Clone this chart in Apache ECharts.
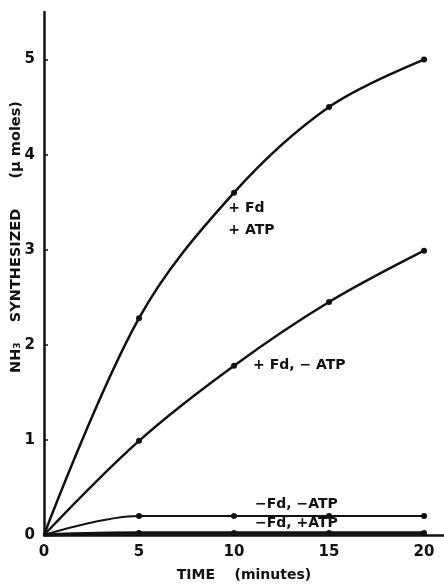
<!DOCTYPE html>
<html>
<head>
<meta charset="utf-8">
<script src="https://cdn.jsdelivr.net/npm/echarts@6/dist/echarts.min.js"></script>
<style>
  html, body { margin: 0; padding: 0; background: #fff; }
  #main { width: 444px; height: 584px; }
</style>
</head>
<body>
<div id="main"></div>
<script>
// time points (minutes)
const times = [0, 5, 10, 15, 20]
// NH3 synthesized (µ moles)
const fdAtp = [0, 2.28, 3.6, 4.5, 5.0]
const fdNoAtp = [0, 0.99, 1.78, 2.45, 2.99]
const noFdNoAtp = [0, 0.2, 0.2, 0.2, 0.2]
const noFdAtp = [0, 0.02, 0.02, 0.02, 0.02]
const xTicks = [0, 5, 10, 15, 20]
const yTicks = [0, 1, 2, 3, 4, 5]

const font = 'DejaVu Sans'
const pairs = ys => times.map((t, i) => [t, ys[i]])

const makeSeries = (name, ys, width) => ({
    name,
    type: 'line',
    data: pairs(ys),
    smooth: 0.35,
    symbol: 'circle',
    symbolSize: v => v[0] === 0 ? 0 : 6,
    itemStyle: { color: '#111' },
    lineStyle: { color: '#111', width: width },
    z: 3
})

const chart = echarts.init(document.getElementById('main'))
chart.setOption({
    animation: false,
    backgroundColor: '#fff',
    grid: { left: 44, right: 0, top: 12, bottom: 49, containLabel: false, outerBoundsMode: 'none' },
    xAxis: {
        type: 'value',
        min: 0,
        max: 21.05,
        interval: 5,
        name: 'TIME    (minutes)',
        nameLocation: 'middle',
        nameGap: 33,
        nameTextStyle: { fontFamily: font, fontWeight: 'bold', fontSize: 14, color: '#111' },
        axisLine: { lineStyle: { color: '#111', width: 2.5 } },
        axisTick: { show: false },
        splitLine: { show: false },
        axisLabel: {
            fontFamily: font, fontWeight: 'bold', fontSize: 15, color: '#111', margin: 10,
            formatter: v => xTicks.includes(v) ? String(v) : ''
        }
    },
    yAxis: {
        type: 'value',
        min: 0,
        max: 5.5,
        interval: 1,
        axisLine: { show: true, lineStyle: { color: '#111', width: 2.5 } },
        axisTick: { show: true, inside: true, length: 4, customValues: yTicks, lineStyle: { color: '#111', width: 1.5 } },
        splitLine: { show: false },
        axisLabel: {
            fontFamily: font, fontWeight: 'bold', fontSize: 15, color: '#111', margin: 9,
            formatter: v => yTicks.includes(v) ? String(v) : ''
        }
    },
    series: [
        makeSeries('+Fd +ATP', fdAtp, 2.5),
        makeSeries('+Fd -ATP', fdNoAtp, 2.5),
        makeSeries('-Fd -ATP', noFdNoAtp, 2),
        makeSeries('-Fd +ATP', noFdAtp, 3.5)
    ]
})

// curve labels placed in data coordinates
const labels = [
    { text: '+ Fd', at: [9.7, 3.43] },
    { text: '+ ATP', at: [9.7, 3.2] },
    { text: '+ Fd, − ATP', at: [11.0, 1.78] },
    { text: '−Fd, −ATP', at: [11.1, 0.32] },
    { text: '−Fd, +ATP', at: [11.1, 0.12] }
]
const textStyle = {
    fontFamily: font,
    fontWeight: 'bold',
    fontSize: 14,
    fill: '#111',
    verticalAlign: 'middle'
}
chart.setOption({
    graphic: labels.map(l => {
        const p = chart.convertToPixel({ gridIndex: 0 }, l.at)
        return { type: 'text', x: p[0], y: p[1], z: 10, style: { ...textStyle, text: l.text } }
    }).concat([{
        // y axis title
        type: 'text',
        x: 16,
        y: 237,
        rotation: Math.PI / 2,
        style: { ...textStyle, fontSize: 14.5, align: 'center', text: 'NH₃    SYNTHESIZED      (μ moles)' }
    }])
})
</script>
</body>
</html>
